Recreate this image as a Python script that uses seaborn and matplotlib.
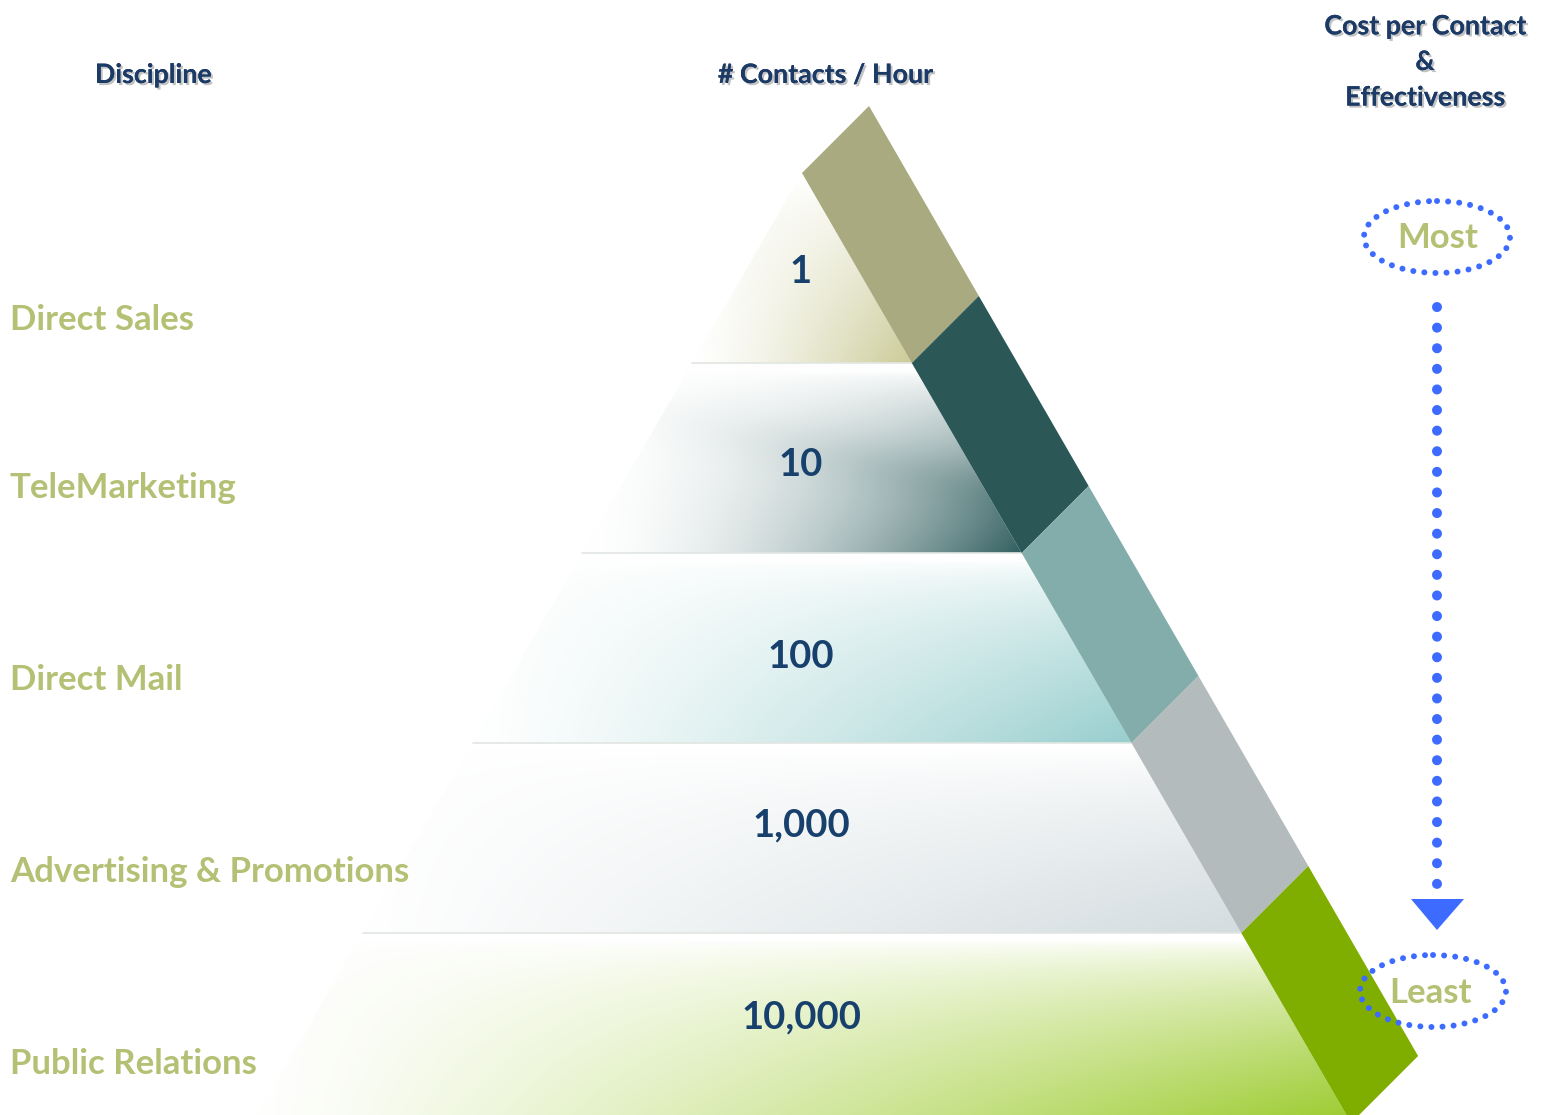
import numpy as np
import matplotlib
matplotlib.use("Agg")
import matplotlib.pyplot as plt
import matplotlib.patheffects as pe
from matplotlib.patches import Polygon, Ellipse
from matplotlib.colors import to_rgb
import seaborn as sns
import pandas as pd

# ---- data ----
disciplines = ["Direct Sales", "TeleMarketing", "Direct Mail",
               "Advertising & Promotions", "Public Relations"]
contacts_per_hour = ["1", "10", "100", "1,000", "10,000"]
band_colors = ["#A9AA7F", "#2B5757", "#82ADAB", "#B4BBBC", "#80AE00"]
fill_colors = ["#CBCB98", "#325F60", "#98CECE", "#D3DCDF", "#9CCB2E"]
headers = ["Discipline", "# Contacts / Hour", "Cost per Contact\n&\nEffectiveness"]
scale_ends = ["Most", "Least"]

sns.set_theme(style="white")
plt.rcParams["font.family"] = ["Lato", "DejaVu Sans"]

W, H = 1541, 1115
fig = plt.figure(figsize=(W / 100, H / 100), dpi=100)
ax = fig.add_axes([0, 0, 1, 1])
ax.set_xlim(0, W)
ax.set_ylim(H, 0)
ax.axis("off")

apex_x, apex_y = 802, 173
row_h = 190
slope = 0.578
off = 67

def left_x(y):
    return apex_x - (y - apex_y) * slope

def inner_x(y):
    return apex_x + (y - apex_y) * slope

navy = "#17406D"
green_txt = "#B4C074"
blue = "#3D6BFF"

# gradient shape parameters per row (horizontal power, vertical power)
grad_params = [(1.3, 0.7), (1.7, 0.7), (1.2, 0.6), (1.0, 0.7), (1.15, 0.65)]
value_y = [272, 465, 657, 825, 1017]
label_y = [320, 488, 680, 872, 1064]

for i, col in enumerate(fill_colors):
    yt = apex_y + row_h * i
    yb = apex_y + row_h * (i + 1)
    x0, x1 = left_x(yb), inner_x(yb)
    nx, ny = 400, 160
    u = np.linspace(0, 1, nx)[None, :]
    v = np.linspace(0, 1, ny)[:, None]
    pu, pv = grad_params[i]
    vv = np.clip((v - 0.04) / 0.96, 0, 1)
    t = u ** pu * vv ** pv
    if i == 1:
        d = v - (0.2 + 0.5 * u)
        t = t + 0.08 * np.clip(u * 1.5, 0, 1) * np.exp(-(d / 0.15) ** 2)
    t = np.clip(t, 0, 1)[..., None]
    c = np.array(to_rgb(col))[None, None, :]
    img = 1 - t * (1 - c)
    im = ax.imshow(img, extent=(x0, x1, yb, yt), origin="upper",
                   aspect="auto", interpolation="bicubic", zorder=1)
    poly = Polygon([(left_x(yt), yt), (inner_x(yt), yt), (inner_x(yb), yb),
                    (left_x(yb), yb)], closed=True, facecolor="none",
                   edgecolor="none")
    ax.add_patch(poly)
    im.set_clip_path(poly)
    if i < 4:
        ax.plot([left_x(yb), inner_x(yb)], [yb, yb], color="#E2E6E2",
                lw=1.2, zorder=2)
    ax.text(801, value_y[i], contacts_per_hour[i], ha="center", va="center",
            fontsize=27.5, fontweight="bold", color=navy, zorder=5)
    ax.text(10, label_y[i], disciplines[i], ha="left", va="center",
            fontsize=25, fontweight="bold", color=green_txt, zorder=5)

# band segments
for i, col in enumerate(band_colors):
    yt = apex_y + row_h * i
    yb = apex_y + row_h * (i + 1)
    pts = [(inner_x(yt), yt), (inner_x(yt) + off, yt - off),
           (inner_x(yb) + off, yb - off), (inner_x(yb), yb)]
    ax.add_patch(Polygon(pts, closed=True, facecolor=col, edgecolor="none",
                         zorder=3))

# headers
shadow = [pe.withSimplePatchShadow(offset=(1.5, -1.5), shadow_rgbFace="#9A9A9A",
                                   alpha=0.6), pe.Normal()]
ax.text(153, 75, headers[0], ha="center", va="center", fontsize=19.3,
        fontweight="bold", color="#1B3A66", path_effects=shadow, zorder=5)
ax.text(825, 75, headers[1], ha="center", va="center", fontsize=19.3,
        fontweight="bold", color="#1B3A66", path_effects=shadow, zorder=5)
ax.text(1425, 62, headers[2], ha="center", va="center", fontsize=19.3,
        fontweight="bold", color="#1B3A66", path_effects=shadow,
        linespacing=1.58, zorder=5)

# Most / Least
ax.text(1438, 238, scale_ends[0], ha="center", va="center", fontsize=25,
        fontweight="bold", color=green_txt, zorder=5)
ax.text(1431, 993, scale_ends[1], ha="center", va="center", fontsize=25,
        fontweight="bold", color=green_txt, zorder=5)
for (cx, cy) in [(1437, 237), (1433, 991)]:
    e = Ellipse((cx, cy), 146, 72, facecolor="none", edgecolor=blue,
                lw=4.3, linestyle=(0, (0.01, 1.85)), zorder=6)
    e.set_capstyle("round")
    ax.add_patch(e)

# dotted arrow
arrow_df = pd.DataFrame({"x": [1437, 1437], "y": [307, 885]})
sns.lineplot(data=arrow_df, x="x", y="y", ax=ax, color=blue, lw=7.2,
             linestyle=(0, (0.01, 2.05)), dash_capstyle="round",
             estimator=None, sort=False, orient="y", zorder=6)
ax.add_patch(Polygon([(1411, 899), (1464, 899), (1437, 930)], closed=True,
                     facecolor=blue, edgecolor="none", zorder=6))
ax.set_xlim(0, W)
ax.set_ylim(H, 0)
ax.axis("off")

fig.savefig("out.png", dpi=100)
